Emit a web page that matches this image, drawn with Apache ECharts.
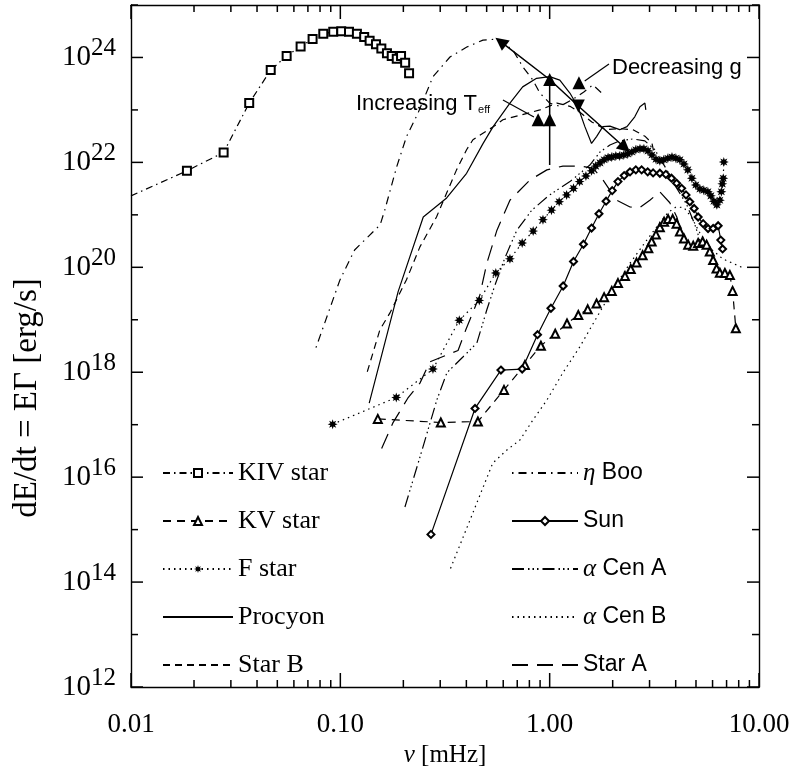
<!DOCTYPE html>
<html><head><meta charset="utf-8">
<script src="https://cdn.jsdelivr.net/npm/echarts@6/dist/echarts.min.js"></script>
<style>html,body{margin:0;padding:0;background:#fff}#c{width:799px;height:768px}</style>
</head><body><div id="c"></div>
<script>
// ---- data: [nu (mHz), dE/dt (erg/s)] ----
const kivStar = [[0.01,2.3e21],[0.0185,6.9e21],[0.0277,1.55e22],[0.0367,1.35e23],[0.0465,5.75e23],[0.0554,1.07e24],[0.0646,1.62e24],[0.0737,2.24e24],[0.0829,2.82e24],[0.0925,3.09e24],[0.101,3.16e24],[0.110,3.09e24],[0.120,2.82e24],[0.130,2.45e24],[0.138,2.09e24],[0.148,1.78e24],[0.157,1.48e24],[0.167,1.2e24],[0.176,1.07e24],[0.186,9.5e23],[0.195,1.07e24],[0.204,7.9e23],[0.213,5.0e23]];
const kvStar = [[0.151,1.29e17],[0.302,1.1e17],[0.454,1.15e17],[0.605,4.6e17],[0.762,1.38e18],[0.908,3.2e18],[1.063,5.4e18],[1.21,8.5e18],[1.37,1.23e19],[1.52,1.58e19],[1.675,2.04e19],[1.82,2.7e19],[1.98,3.55e19],[2.12,5.0e19],[2.29,6.8e19],[2.44,9.3e19],[2.60,1.23e20],[2.78,1.7e20],[2.96,2.3e20],[3.07,3.1e20],[3.22,4.2e20],[3.36,5.8e20],[3.52,7.4e20],[3.68,8.3e20],[3.87,8.3e20],[4.04,6.8e20],[4.19,4.8e20],[4.38,3.55e20],[4.59,2.7e20],[4.85,2.57e20],[5.12,2.9e20],[5.38,3.1e20],[5.62,2.7e20],[5.82,2.0e20],[6.04,1.38e20],[6.27,9.5e19],[6.50,7.9e19],[6.87,7.8e19],[7.26,7.1e19],[7.48,3.55e19],[7.75,6.9e18]];
const fStar = [[0.0919,1.02e17],[0.185,3.3e17],[0.277,1.15e18],[0.370,9.8e18],[0.461,2.34e19],[0.553,7.8e19],[0.646,1.45e20],[0.739,2.9e20],[0.834,4.9e20],[0.929,8.1e20],[1.02,1.23e21],[1.11,1.78e21],[1.205,2.4e21],[1.30,3.2e21],[1.39,4.3e21],[1.49,5.5e21],[1.585,6.9e21],[1.66,8.5e21],[1.74,9.8e21],[1.82,1.12e22],[1.90,1.23e22],[1.98,1.26e22],[2.07,1.32e22],[2.16,1.32e22],[2.26,1.38e22],[2.36,1.45e22],[2.47,1.58e22],[2.58,1.74e22],[2.70,1.82e22],[2.82,1.82e22],[2.95,1.66e22],[3.08,1.38e22],[3.22,1.15e22],[3.36,1.07e22],[3.51,1.12e22],[3.67,1.2e22],[3.84,1.26e22],[4.01,1.2e22],[4.19,1.12e22],[4.38,9.3e21],[4.57,7.2e21],[4.78,5.0e21],[4.99,3.7e21],[5.22,3.1e21],[5.45,2.95e21],[5.70,2.75e21],[5.89,2.3e21],[6.09,1.82e21],[6.29,1.55e21],[6.50,1.9e21],[6.61,2.75e21],[6.68,3.9e21],[6.75,5.0e21],[6.79,1.02e22]];
const procyon = [[0.1374,2.57e17],[0.189,3.47e19],[0.249,9.1e20],[0.322,2.1e21],[0.401,6.2e21],[0.481,2.3e22],[0.537,4.8e22],[0.646,1.35e23],[0.743,2.75e23],[0.866,4.0e23],[1.0,4.3e23],[1.118,3.7e23],[1.249,2.1e23],[1.364,1.15e23],[1.473,4.8e22],[1.585,2.3e22],[1.675,3.1e22],[1.795,4.8e22],[1.94,4.9e22],[2.16,4.2e22],[2.34,4.8e22],[2.55,7.4e22],[2.70,1.15e23],[2.85,1.35e23],[2.88,1.0e23]];
const starB = [[0.1345,1.02e18],[0.1546,6.5e18],[0.1726,1.35e19],[0.207,5.8e19],[0.240,2.45e20],[0.288,9.1e20],[0.322,2.6e21],[0.359,7.2e21],[0.401,1.74e22],[0.430,2.7e22],[0.480,3.6e22],[0.535,4.7e22],[0.598,6.5e22],[0.721,7.9e22],[0.898,1.0e23],[1.083,1.35e23],[1.25,1.17e23],[1.39,9.1e22],[1.59,5.9e22],[1.86,4.2e22],[2.16,4.4e22],[2.50,4.2e22],[2.85,3.16e22],[3.08,2.34e22],[3.15,1.51e22]];
const etaBoo = [[0.0765,2.95e18],[0.0996,5.75e19],[0.117,2.14e20],[0.155,6.46e20],[0.163,1.23e21],[0.186,8.3e21],[0.207,3.1e22],[0.235,8.7e22],[0.277,4.3e23],[0.334,1.02e24],[0.402,1.58e24],[0.480,2.14e24],[0.566,2.24e24],[0.667,1.38e24],[0.745,6.6e23],[0.832,3.7e23],[0.898,2.1e23],[1.0,1.35e23],[1.118,1.17e23],[1.276,1.55e23],[1.456,2.2e23],[1.607,3.0e23],[1.774,2.1e23]];
const sun = [[0.271,8.1e14],[0.440,2.04e17],[0.585,1.1e18],[0.739,1.15e18],[0.875,5.2e18],[1.014,1.66e19],[1.16,4.4e19],[1.30,1.29e20],[1.45,2.75e20],[1.585,5.6e20],[1.72,1.05e21],[1.86,1.82e21],[1.99,2.9e21],[2.12,4.3e21],[2.27,5.6e21],[2.42,6.6e21],[2.58,7.2e21],[2.75,7.2e21],[2.94,6.6e21],[3.12,6.3e21],[3.36,6.2e21],[3.59,5.9e21],[3.82,5.0e21],[4.04,4.0e21],[4.27,3.2e21],[4.48,2.4e21],[4.67,1.78e21],[4.90,1.32e21],[5.12,9.1e20],[5.41,6.8e20],[5.71,5.5e20],[6.04,5.5e20],[6.38,6.2e20],[6.57,3.3e20],[6.70,2.24e20]];
const alphaCenA = [[0.2035,2.7e15],[0.240,2.4e16],[0.289,2.95e17],[0.323,9.8e17],[0.385,1.95e18],[0.449,3.6e18],[0.501,1.55e19],[0.548,4.6e19],[0.611,1.51e20],[0.697,5.1e20],[0.822,1.23e21],[1.0,2.4e21],[1.25,4.3e21],[1.556,8.9e21],[1.74,1.58e22],[1.94,2.14e22],[2.16,2.57e22],[2.50,2.8e22],[2.85,2.57e22],[3.18,1.74e22],[3.63,7.2e21],[4.05,3.2e21],[4.52,1.55e21],[4.94,6.5e20],[5.22,3.3e20]];
const alphaCenB = [[0.336,1.82e14],[0.416,1.51e15],[0.535,1.86e16],[0.625,3.3e16],[0.721,5.1e16],[0.832,1.23e17],[0.970,2.95e17],[1.157,9.8e17],[1.39,3.0e18],[1.68,1.12e19],[2.00,3.7e19],[2.42,1.2e20],[2.91,3.3e20],[3.36,7.1e20],[3.67,1.1e21],[4.01,1.41e21],[4.38,1.38e21],[4.78,8.7e20],[5.22,4.5e20],[5.82,2.34e20],[6.71,1.45e20],[8.37,9.8e19]];
const starA = [[0.1575,3.5e16],[0.178,1.07e17],[0.210,3.2e17],[0.240,6.2e17],[0.268,1.58e18],[0.365,2.6e18],[0.398,6.5e18],[0.464,2.95e19],[0.501,1.2e20],[0.560,5.1e20],[0.646,1.9e21],[0.804,4.6e21],[0.970,7.2e21],[1.157,8.5e21],[1.39,8.5e21],[1.61,7.8e21],[1.80,4.6e21],[2.09,1.9e21],[2.42,1.41e21],[2.70,1.38e21],[3.01,1.9e21],[3.36,2.75e21],[3.75,1.7e21],[4.05,9.1e20],[4.28,4.2e20]];

// annotation markers (data coordinates)
const trendArrow = [[0.583,2.0e24],[1.0,3.8e23],[1.37,1.19e23],[2.29,1.9e22]];
const trendArrowRot = [53,0,180,-131];
const teffDrop = [[1.0,3.8e23],[1.0,8.9e21]];
const teffMarks = [[0.881,6.5e22],[1.0,6.5e22]];
const gMark = [[1.38,3.3e23]];
const teffPointer = [[0.598,1.55e23],[0.841,7.3e22]];
const gPointer = [[1.92,7.5e23],[1.47,3.55e23]];

// ticks
const xMajorTicks = [0.01,0.1,1,10];
const xMinorTicks = [0.02,0.03,0.04,0.05,0.06,0.07,0.08,0.09,0.2,0.3,0.4,0.5,0.6,0.7,0.8,0.9,2,3,4,5,6,7,8,9];
const yMajorTicks = [1e12,1e14,1e16,1e18,1e20,1e22,1e24];
const yMinorTicks = [1e13,1e15,1e17,1e19,1e21,1e23,1e25];
const X_MIN = 0.01, X_MAX = 10, Y_MIN = 1e12, Y_MAX = 1e25;

const SERIF = '"Liberation Serif","Times New Roman",serif';
const SANS = '"Liberation Sans",Arial,sans-serif';
const asterisk = 'path://M5,0 L2.3,0.95 L3.54,3.54 L0.95,2.3 L0,5 L-0.95,2.3 L-3.54,3.54 L-2.3,0.95 L-5,0 L-2.3,-0.95 L-3.54,-3.54 L-0.95,-2.3 L0,-5 L0.95,-2.3 L3.54,-3.54 L2.3,-0.95 Z';
const CLEAR = 'rgba(0,0,0,0)';
const GRID = { left: 131, right: 40, top: 5, bottom: 81 };
const W_PX = 799, H_PX = 768;

function ser(name, data, dash, symbol, size) {
  return {
    type: 'line', name, data, xAxisIndex: 0, yAxisIndex: 0,
    symbol: symbol || 'none', symbolSize: size || 0, showSymbol: !!symbol,
    lineStyle: { color: '#000', width: 1.2, type: dash },
    itemStyle: symbol ? { color: '#000', opacity: 1 } : { color: CLEAR, borderColor: CLEAR, borderWidth: 0 },
    emphasis: { disabled: true }, z: 2
  };
}
function plain(data, width) {
  return { type: 'line', data, xAxisIndex: 0, yAxisIndex: 0, symbol: 'none', showSymbol: false,
    lineStyle: { color: '#000', width: width, type: 'solid' }, emphasis: { disabled: true }, z: 4, silent: true };
}
function frameAxis(pos, min, max) {
  return { type: 'log', logBase: 10, min, max, position: pos,
    axisLine: { show: true, onZero: false, lineStyle: { color: '#000', width: 1.4 } },
    axisTick: { show: false }, axisLabel: { show: false }, splitLine: { show: false }, minorTick: { show: false } };
}

const xBottom = frameAxis('bottom', X_MIN, X_MAX);
xBottom.axisLabel = { show: true, customValues: xMajorTicks, margin: 24, color: '#000',
  fontFamily: SERIF, fontSize: 27, formatter: v => Number(v).toFixed(2) };
xBottom.name = '{i|ν} [mHz]';
xBottom.nameLocation = 'middle';
xBottom.nameGap = 53;
xBottom.nameTextStyle = { fontFamily: SERIF, fontSize: 25, color: '#000', rich: { i: { fontFamily: SERIF, fontStyle: 'italic', fontSize: 25, color: '#000' } } };

const yLeft = frameAxis('left', Y_MIN, Y_MAX);
yLeft.axisLabel = { show: true, customValues: yMajorTicks, margin: 15,
  formatter: v => '{b|10}{s|' + Math.round(Math.log10(v)) + '}',
  rich: { b: { fontFamily: SERIF, fontSize: 29, color: '#000' },
          s: { fontFamily: SERIF, fontSize: 25, color: '#000', padding: [0, 0, 18, 0] } } };

const textGraphics = [
  { type: 'text', x: 27, y: 398, rotation: Math.PI / 2,
    style: { text: 'dE/dt = EΓ [erg/s]', fontFamily: SERIF, fontSize: 33, fill: '#000', align: 'center', verticalAlign: 'middle' } },
  { type: 'text', x: 356, y: 104, z: 10,
    style: { text: '{a|Increasing T}{b|eff}', align: 'left', verticalAlign: 'middle',
      rich: { a: { fontFamily: SANS, fontSize: 22, fill: '#000' }, b: { fontFamily: SANS, fontSize: 11, fill: '#000', padding: [12, 0, 0, 1] } } } },
  { type: 'text', x: 612, y: 68, z: 10,
    style: { text: 'Decreasing g', fontFamily: SANS, fontSize: 22, fill: '#000', align: 'left', verticalAlign: 'middle' } }
];

const chart = echarts.init(document.getElementById('c'), null, { renderer: 'canvas' });
chart.setOption({
  animation: false,
  backgroundColor: '#fff',
  grid: Object.assign({ containLabel: false, outerBoundsMode: 'none' }, GRID),
  xAxis: [xBottom, frameAxis('top', X_MIN, X_MAX)],
  yAxis: [yLeft, frameAxis('right', Y_MIN, Y_MAX)],
  legend: [
    { data: ['KIV star', 'KV star', 'F star', 'Procyon', 'Star B'], orient: 'vertical', left: 157, top: 455,
      itemWidth: 70, itemHeight: 10, itemGap: 22, selectedMode: false,
      textStyle: { fontFamily: SERIF, fontSize: 26, color: '#000', lineHeight: 26 } },
    { data: ['η Boo', 'Sun', 'α Cen A', 'α Cen B', 'Star A'], orient: 'vertical', left: 506, top: 455,
      itemWidth: 66, itemHeight: 10, itemGap: 22, selectedMode: false,
      formatter: n => n.replace(/^([ηα])/, '{g|$1}'),
      textStyle: { fontFamily: SANS, fontSize: 23, color: '#000', lineHeight: 26,
        rich: { g: { fontFamily: SERIF, fontStyle: 'italic', fontSize: 25, color: '#000' } } } }
  ],
  graphic: textGraphics,
  series: [
    ser('KIV star', kivStar.map((p, i) => i === 0 ? { value: p, symbol: 'none' } : p), [7, 4, 1.5, 4], 'emptyRect', 8),
    ser('KV star', kvStar, [8, 6], 'emptyTriangle', 8),
    ser('F star', fStar, [1.5, 4], asterisk, 10),
    ser('Procyon', procyon, 'solid'),
    ser('Star B', starB, [7, 5]),
    ser('η Boo', etaBoo, [1.5, 5, 8, 5]),
    ser('Sun', sun, 'solid', 'emptyDiamond', 7),
    ser('α Cen A', alphaCenA, [12, 4, 1.5, 3, 1.5, 3, 1.5, 4]),
    ser('α Cen B', alphaCenB, [1.5, 4]),
    ser('Star A', starA, [16, 9]),
    Object.assign(plain(trendArrow.map((p, i) => ({ value: p, symbolRotate: trendArrowRot[i] })), 1.5),
      { symbol: 'triangle', symbolSize: 13, showSymbol: true, itemStyle: { color: '#000', opacity: 1 } }),
    plain(teffDrop, 1.5),
    plain(teffPointer, 1.2),
    plain(gPointer, 1.2),
    { type: 'scatter', data: teffMarks.concat(gMark), symbol: 'triangle', symbolSize: 13, itemStyle: { color: '#000', opacity: 1 }, z: 5, silent: true }
  ]
});

// tick marks: position along the axis from the axis scale (convertToPixel), frame edges from the grid box
const TW = 1.5;
const xL = GRID.left, xR = W_PX - GRID.right, yT = GRID.top, yB = H_PX - GRID.bottom;
const toX = v => { const p = chart.convertToPixel({ xAxisIndex: 0 }, v); return Array.isArray(p) ? p[0] : p; };
const toY = v => { const p = chart.convertToPixel({ yAxisIndex: 0 }, v); return Array.isArray(p) ? p[1] : p; };
const tickGraphics = [];
function seg(x1, y1, x2, y2) {
  tickGraphics.push({ type: 'line', z: 50, zlevel: 1, silent: true,
    shape: { x1, y1, x2, y2 }, style: { stroke: '#000', lineWidth: TW } });
}
function addX(values, len) {
  values.forEach(v => {
    const x = toX(v);
    if (!isFinite(x)) return;
    seg(x, yB, x, yB - len);
    seg(x, yT, x, yT + len);
  });
}
function addY(values, len) {
  values.forEach(v => {
    const y = toY(v);
    if (!isFinite(y)) return;
    seg(xL, y, xL + len, y);
    seg(xR, y, xR - len, y);
  });
}
addX(xMajorTicks, 14); addX(xMinorTicks, 7);
addY(yMajorTicks, 12); addY(yMinorTicks, 7);
chart.setOption({ graphic: { elements: textGraphics.concat(tickGraphics) } });
</script></body></html>
